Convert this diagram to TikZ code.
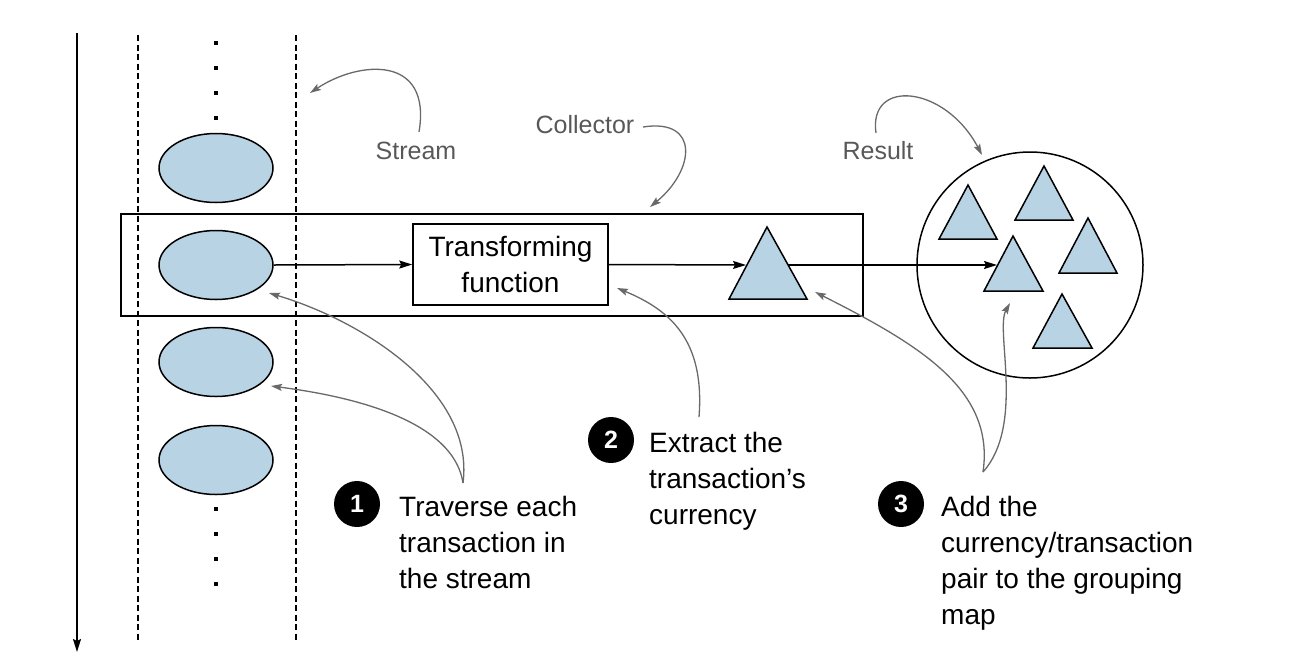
\documentclass[tikz,border=0pt]{standalone}
\usepackage{fontspec}
\setmainfont{Liberation Sans}
\usetikzlibrary{arrows.meta,shapes.geometric}
\definecolor{fillblue}{RGB}{184,211,227}
\definecolor{callgray}{RGB}{105,105,105}
\definecolor{labgray}{RGB}{88,88,88}
\begin{document}
\begin{tikzpicture}[x=1pt,y=-1pt,
  blk/.style={line width=1.5pt,black},
  blkarrow/.style={blk,-{Stealth[length=13pt,width=8pt,inset=2pt]}},
  callout/.style={line width=1.3pt,callgray,-{Stealth[length=11pt,width=7pt,inset=2pt]}},
  dashline/.style={line width=1.4pt,dash pattern=on 6pt off 3.5pt},
  item/.style={ellipse,draw,line width=1.5pt,fill=fillblue,minimum width=114pt,minimum height=69pt,inner sep=0pt},
  tri/.style={line width=1.5pt,fill=fillblue,draw=black,line join=miter},
  lab/.style={text=labgray,font=\fontsize{25}{28}\selectfont,inner sep=0pt},
  desc/.style={anchor=north west,align=left,inner sep=0pt,font=\fontsize{28}{36}\selectfont},
  badge/.style={circle,fill=black,minimum size=46pt,inner sep=0pt,text=white,font=\fontsize{25}{25}\selectfont\bfseries},
  dot/.style={fill=black,inner sep=0pt,minimum size=3.5pt,rectangle}
]
\useasboundingbox (0,0) rectangle (1292,670);

% time axis
\coordinate (axtop) at (77,33);
\coordinate (axbot) at (77,652);
\draw[blkarrow] (axtop) -- (axbot);

% dashed stream lanes
\coordinate (d1t) at (138,35); \coordinate (d1b) at (138,642);
\coordinate (d2t) at (296,35); \coordinate (d2b) at (296,642);
\draw[dashline] (d1t) -- (d1b);
\draw[dashline] (d2t) -- (d2b);

% dots
\foreach \y [count=\i] in {43,68,93,118} \node[dot] (td\i) at (216,\y) {};
\foreach \y [count=\i] in {509,534,559,584} \node[dot] (bd\i) at (216,\y) {};

% collector box
\node[draw,line width=1.5pt,minimum width=742pt,minimum height=102pt,inner sep=0pt] (coll) at (492,265) {};

% stream elements
\node[item] (e1) at (216,168) {};
\node[item] (e2) at (216,265) {};
\node[item] (e3) at (216,362) {};
\node[item] (e4) at (216,460) {};

% transforming function
\node[draw,line width=1.5pt,minimum width=195pt,minimum height=81pt,inner sep=0pt,align=center,font=\fontsize{28}{36}\selectfont] (tf) at (510.5,264.5) {Transforming\\function};

% collector triangle
\draw[tri] (767,227) -- (807,299) -- (729,299) -- cycle;
\coordinate (t0in) at (746,265);
\coordinate (t0out) at (788,265);

% result
\node[circle,draw,line width=1.5pt,minimum size=226pt,inner sep=0pt] (res) at (1030,265) {};
\draw[tri] (968,185) -- (997,239) -- (939,239) -- cycle;
\draw[tri] (1044,166) -- (1073,220) -- (1015,220) -- cycle;
\draw[tri] (1088,218) -- (1117,273) -- (1059,273) -- cycle;
\draw[tri] (1013,236) -- (1043,291) -- (984,291) -- cycle;
\draw[tri] (1062,294) -- (1092,348) -- (1033,348) -- cycle;
\coordinate (t4in) at (997,265);

% flow arrows
\draw[blkarrow] (e2.east) -- (tf.west);
\draw[blkarrow] (tf.east) -- (t0in);
\draw[blkarrow] (t0out) -- (t4in);

% labels
\node[lab] (lstream) at (416,151) {Stream};
\node[lab] (lcoll) at (585,125) {Collector};
\node[lab] (lres) at (878,151) {Result};

\coordinate (sA) at (419,132); \coordinate (sT) at (310,93);
\draw[callout] (sA) .. controls (432,55) and (360,60) .. (sT);
\coordinate (cA) at (643,127); \coordinate (cT) at (650,207);
\draw[callout] (cA) .. controls (700,118) and (695,170) .. (cT);
\coordinate (rA) at (876,133); \coordinate (rT) at (982,155);
\draw[callout] (rA) .. controls (868,78) and (945,85) .. (rT);

% step 1
\node[badge] (b1) at (357,504) {1};
\node[desc] (d1) at (399,496) {Traverse each\\transaction in\\the stream};
\coordinate (c1) at (463,483);
\coordinate (c1a) at (269,293);
\coordinate (c1b) at (271,386);
\draw[callout] (c1) .. controls (475,390) and (360,320) .. (c1a);
\draw[callout] (c1) .. controls (455,430) and (380,400) .. (c1b);

% step 2
\node[badge] (b2) at (611,440) {2};
\node[desc] (d2) at (649,432) {Extract the\\transaction’s\\currency};
\coordinate (c2) at (699,417);
\coordinate (c2a) at (617,288);
\draw[callout] (c2) .. controls (705,340) and (670,310) .. (c2a);

% step 3
\node[badge] (b3) at (901,504) {3};
\node[desc] (d3) at (941,496) {Add the\\currency/transaction\\pair to the grouping\\map};
\coordinate (c3) at (983,472);
\coordinate (c3a) at (815,292);
\coordinate (c3b) at (1010,303);
\draw[callout] (c3) .. controls (995,390) and (920,345) .. (c3a);
\draw[callout] (c3) .. controls (1025,425) and (995,330) .. (c3b);
\end{tikzpicture}
\end{document}
